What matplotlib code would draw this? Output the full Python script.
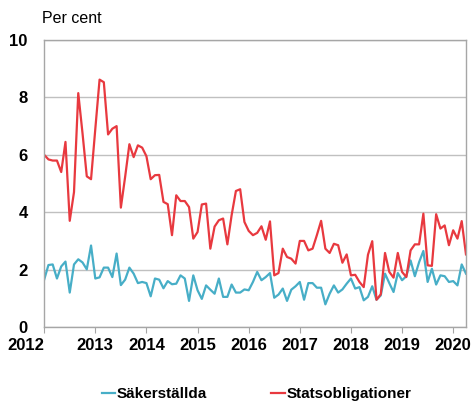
import numpy as np
import matplotlib
matplotlib.use("Agg")
import matplotlib.pyplot as plt

plt.rcParams['font.family'] = ['Liberation Sans', 'DejaVu Sans']

# monthly observations, Jan 2012 - Apr 2020
sakerstallda = [
    1.65, 2.16, 2.18, 1.69, 2.11, 2.28, 1.20, 2.18, 2.36, 2.25, 2.01, 2.84,
    1.69, 1.73, 2.07, 2.07, 1.74, 2.56, 1.46, 1.65, 2.07, 1.86, 1.53, 1.57,
    1.53, 1.07, 1.69, 1.65, 1.35, 1.60, 1.49, 1.51, 1.80, 1.69, 0.91, 1.80,
    1.28, 0.98, 1.45, 1.30, 1.16, 1.69, 1.05, 1.05, 1.48, 1.20, 1.20, 1.31,
    1.28, 1.57, 1.92, 1.63, 1.74, 1.88, 1.02, 1.13, 1.34, 0.91, 1.30, 1.42,
    1.57, 0.95, 1.53, 1.53, 1.37, 1.37, 0.79, 1.16, 1.45, 1.20, 1.31, 1.51,
    1.69, 1.34, 1.39, 0.93, 1.05, 1.42, 0.95, 1.10, 1.86, 1.53, 1.22, 1.88,
    1.63, 1.77, 2.32, 1.77, 2.26, 2.65, 1.57, 2.03, 1.48, 1.80, 1.77, 1.57,
    1.60, 1.45, 2.18, 1.86,
]
statsobligationer = [
    6.00, 5.84, 5.80, 5.80, 5.40, 6.45, 3.70, 4.70, 8.15, 6.75, 5.25, 5.15,
    6.90, 8.62, 8.53, 6.71, 6.91, 7.00, 4.16, 5.23, 6.37, 5.92, 6.33, 6.25,
    5.95, 5.15, 5.29, 5.30, 4.36, 4.28, 3.20, 4.59, 4.39, 4.39, 4.18, 3.08,
    3.31, 4.27, 4.30, 2.73, 3.50, 3.72, 3.78, 2.88, 3.90, 4.74, 4.80, 3.66,
    3.35, 3.20, 3.28, 3.51, 3.04, 3.68, 1.80, 1.88, 2.73, 2.44, 2.38, 2.21,
    3.00, 3.00, 2.67, 2.73, 3.20, 3.70, 2.73, 2.58, 2.90, 2.85, 2.24, 2.53,
    1.80, 1.82, 1.57, 1.39, 2.52, 2.99, 0.95, 1.14, 2.58, 1.92, 1.72, 2.58,
    1.92, 1.74, 2.67, 2.88, 2.88, 3.95, 2.15, 2.13, 3.93, 3.43, 3.54, 2.85,
    3.37, 3.08, 3.69, 2.53,
]
years = list(range(2012, 2021))
yticks = [0, 2, 4, 6, 8, 10]

x = 2012 + np.arange(len(sakerstallda)) / 12

fig = plt.figure(figsize=(4.75, 4.01), dpi=100)
ax = fig.add_axes([0.093, 0.1845, 0.888, 0.7157])

ax.plot(x, sakerstallda, color='#47AEC7', lw=1.6, label='Säkerställda')
ax.plot(x, statsobligationer, color='#E8393F', lw=1.6, label='Statsobligationer')

ax.set_xlim(2012, x[-1])
ax.set_ylim(0, 10)
ax.set_xticks(years)
ax.set_xticklabels([str(y) for y in years])
ax.set_yticks(yticks)
ax.grid(axis='y', color='#C0C0C0', lw=1)
ax.set_axisbelow(True)

for s in ax.spines.values():
    s.set_color('#A6A6A6')
    s.set_linewidth(1)

ax.tick_params(axis='x', length=4, color='#A6A6A6', pad=4, labelsize=12)
ax.tick_params(axis='y', length=0, pad=12, labelsize=12)
for lab in ax.get_xticklabels() + ax.get_yticklabels():
    lab.set_fontweight('bold')
ax.get_xticklabels()[0].set_horizontalalignment('right')

fig.text(0.088, 0.935, 'Per cent', fontsize=11.5, ha='left', va='bottom')

fig.legend(loc='lower center', bbox_to_anchor=(0.54, -0.035), ncol=2,
           frameon=False, handlelength=0.9, handletextpad=0.1,
           columnspacing=4.2, prop={'weight': 'bold', 'size': 11})

fig.savefig('out.png', dpi=100)
